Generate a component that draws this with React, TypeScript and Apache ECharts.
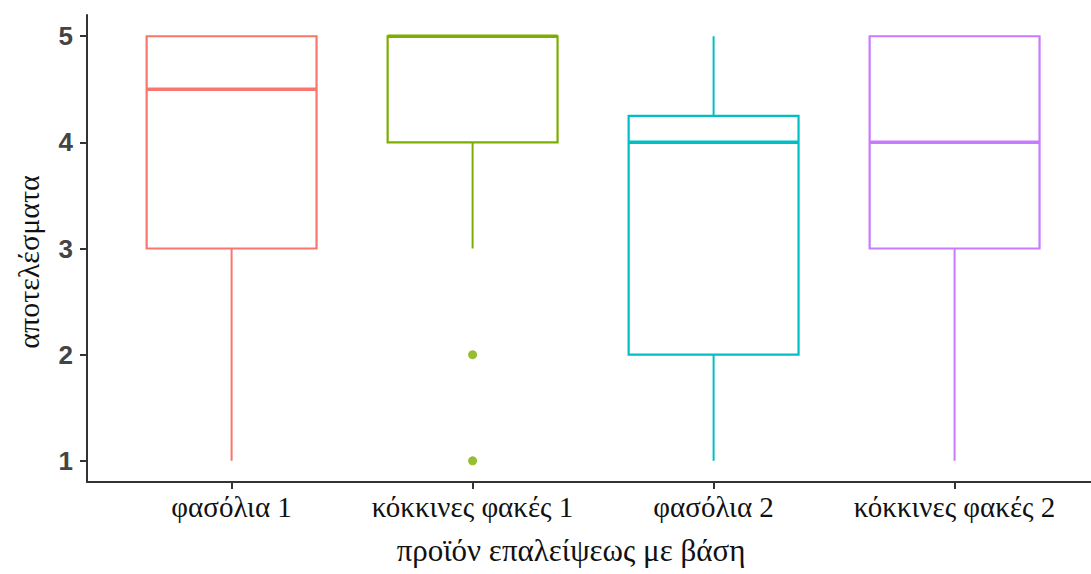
import React, { useEffect, useRef } from "react";
import * as echarts from "echarts";

const categories = ["φασόλια 1", "κόκκινες φακές 1", "φασόλια 2", "κόκκινες φακές 2"];
const lowerWhisker = [1, 3, 1, 1];
const q1 = [3, 4, 2, 3];
const median = [4.5, 5, 4, 4];
const q3 = [5, 5, 4.25, 5];
const upperWhisker = [5, 5, 5, 5];
const outlierCategory = [2, 2];
const outlierValue = [2, 1];
const colors = ["#F8766D", "#7CAE00", "#00BFC4", "#C77CFF"];
const yTicks = [1, 2, 3, 4, 5];
const xTicks = [1, 2, 3, 4];
const yTitle = "αποτελέσματα";
const xTitle = "προϊόν επαλείψεως με βάση";

export default function App() {
  const ref = useRef<HTMLDivElement>(null);
  useEffect(() => {
    if (!ref.current) return;
    const chart = echarts.init(ref.current, null, { renderer: "svg" });
    const boxData = categories.map((_, i) => [
      i + 1,
      lowerWhisker[i],
      q1[i],
      median[i],
      q3[i],
      upperWhisker[i],
    ]);
    const outData = outlierCategory.map((c, i) => [c, outlierValue[i]]);
    chart.setOption({
      animation: false,
      grid: { left: 87, right: 0, top: 15, bottom: 92 },
      xAxis: {
        type: "value",
        min: 0.4,
        max: 4.566,
        splitLine: { show: false },
        axisLine: { show: true, lineStyle: { color: "#333", width: 2 } },
        axisTick: {
          show: true,
          customValues: xTicks,
          length: 7,
          lineStyle: { color: "#333", width: 2 },
        },
        axisLabel: {
          customValues: xTicks,
          formatter: (v: number) => categories[Math.round(v) - 1] ?? "",
          fontFamily: "Liberation Serif",
          fontSize: 29,
          color: "#111",
          margin: 10,
        },
      },
      yAxis: {
        type: "value",
        min: 0.8,
        max: 5.2,
        splitLine: { show: false },
        axisLine: { show: true, lineStyle: { color: "#333", width: 2 } },
        axisTick: {
          show: true,
          customValues: yTicks,
          length: 7,
          lineStyle: { color: "#333", width: 2 },
        },
        axisLabel: {
          customValues: yTicks,
          fontFamily: "Liberation Sans",
          fontWeight: "bold",
          fontSize: 26,
          color: "#444",
          margin: 14,
        },
      },
      graphic: [
        {
          type: "text",
          x: 28,
          y: 262,
          rotation: Math.PI / 2,
          style: {
            text: yTitle,
            font: "30px 'Liberation Serif'",
            fill: "#111",
            align: "center",
            verticalAlign: "middle",
          },
        },
        {
          type: "text",
          x: 571,
          y: 550,
          style: {
            text: xTitle,
            font: "31px 'Liberation Serif'",
            fill: "#111",
            align: "center",
            verticalAlign: "middle",
          },
        },
      ],
      series: [
        {
          type: "custom",
          data: boxData,
          encode: { x: 0, y: [1, 2, 3, 4, 5] },
          renderItem: (params: any, api: any) => {
            const x = api.value(0);
            const col = colors[params.dataIndex];
            const w = api.size([0.705, 0])[0];
            const pMin = api.coord([x, api.value(1)]);
            const pQ1 = api.coord([x, api.value(2)]);
            const pMed = api.coord([x, api.value(3)]);
            const pQ3 = api.coord([x, api.value(4)]);
            const pMax = api.coord([x, api.value(5)]);
            const cx = pMed[0];
            const ls = { stroke: col, lineWidth: 2, fill: null };
            return {
              type: "group",
              children: [
                { type: "line", shape: { x1: cx, y1: pQ1[1], x2: cx, y2: pMin[1] }, style: ls },
                { type: "line", shape: { x1: cx, y1: pQ3[1], x2: cx, y2: pMax[1] }, style: ls },
                {
                  type: "rect",
                  shape: { x: cx - w / 2, y: pQ3[1], width: w, height: pQ1[1] - pQ3[1] },
                  style: { stroke: col, lineWidth: 2.2, fill: "#fff" },
                },
                {
                  type: "line",
                  shape: { x1: cx - w / 2, y1: pMed[1], x2: cx + w / 2, y2: pMed[1] },
                  style: { stroke: col, lineWidth: 3.5 },
                },
              ],
            };
          },
        },
        {
          type: "scatter",
          data: outData,
          symbol: "circle",
          symbolSize: 9,
          itemStyle: { color: colors[1] },
        },
      ],
    });
    return () => chart.dispose();
  }, []);
  return (
    <div
      ref={ref}
      style={{ position: "fixed", left: 0, top: 0, width: 1091, height: 574, background: "#fff" }}
    />
  );
}
